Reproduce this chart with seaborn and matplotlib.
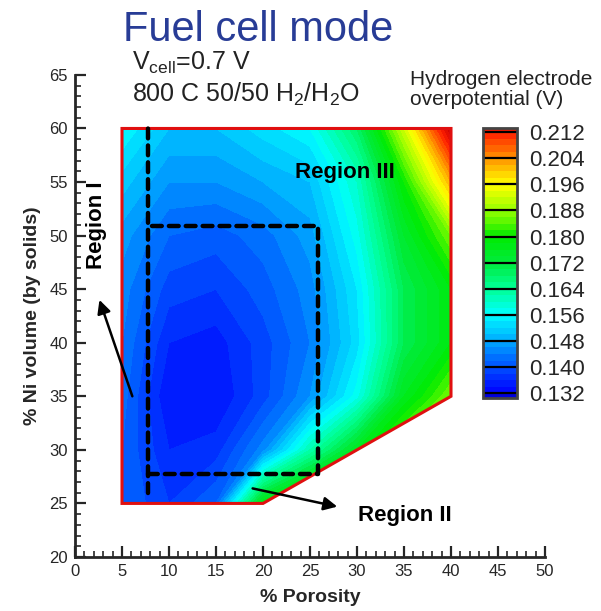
import matplotlib
matplotlib.use("Agg")
import matplotlib.pyplot as plt
import numpy as np
import seaborn as sns
from matplotlib.colors import LinearSegmentedColormap
from matplotlib.patches import Polygon
from matplotlib.ticker import MultipleLocator, FormatStrFormatter

sns.set_style("ticks")
plt.rcParams["font.family"] = ["Liberation Sans", "DejaVu Sans"]
plt.rcParams["mathtext.default"] = "regular"

# simulation grid
POROSITY = [5, 10, 15, 20, 25, 30, 35, 40]
NI_VOLUME = [25, 30, 35, 40, 45, 50, 55, 60]
# one row per Ni volume (bottom to top), one column per porosity
OVERPOTENTIAL = [
    [0.142, 0.138, 0.142, 0.178, 0.188, 0.196, 0.202, 0.208],
    [0.142, 0.136, 0.137, 0.145, 0.162, 0.176, 0.188, 0.196],
    [0.143, 0.134, 0.134, 0.139, 0.146, 0.157, 0.176, 0.186],
    [0.144, 0.136, 0.135, 0.139, 0.144, 0.153, 0.170, 0.178],
    [0.145, 0.139, 0.138, 0.141, 0.145, 0.154, 0.170, 0.178],
    [0.147, 0.142, 0.141, 0.143, 0.147, 0.157, 0.174, 0.186],
    [0.151, 0.146, 0.146, 0.148, 0.150, 0.160, 0.180, 0.202],
    [0.156, 0.150, 0.150, 0.153, 0.156, 0.168, 0.192, 0.218],
]
CBAR_TICKS = [0.132, 0.140, 0.148, 0.156, 0.164, 0.172, 0.180, 0.188, 0.196, 0.204, 0.212]

# outline of the explored design space
DOMAIN_X = [5, 5, 40, 40, 20]
DOMAIN_Y = [25, 60, 60, 35, 25]

# dashed guide lines
REGION1_X = [7.8, 7.8]
REGION1_Y = [26.0, 60.5]
BOX_X = [8.2, 25.8, 25.8, 7.8]
BOX_Y = [50.9, 50.9, 27.7, 27.7]

VMIN, VMAX = 0.130, 0.218
cmap_nodes = [
    (0.130, (0.00, 0.00, 0.78)),
    (0.132, (0.00, 0.00, 1.00)),
    (0.140, (0.00, 0.31, 1.00)),
    (0.148, (0.00, 0.67, 1.00)),
    (0.156, (0.00, 1.00, 1.00)),
    (0.164, (0.00, 1.00, 0.59)),
    (0.172, (0.00, 0.92, 0.24)),
    (0.180, (0.00, 0.92, 0.00)),
    (0.188, (0.59, 1.00, 0.00)),
    (0.196, (1.00, 1.00, 0.00)),
    (0.204, (1.00, 0.59, 0.00)),
    (0.212, (1.00, 0.12, 0.00)),
    (0.218, (0.80, 0.00, 0.00)),
]
cmap = LinearSegmentedColormap.from_list(
    "tecplot", [((v - VMIN) / (VMAX - VMIN), c) for v, c in cmap_nodes])

fig = plt.figure(figsize=(6.01, 6.11), dpi=100)
ax = fig.add_axes([0.1248, 0.0884, 0.782, 0.789])

X, Y = np.meshgrid(POROSITY, NI_VOLUME)
Z = np.array(OVERPOTENTIAL)
levels = np.linspace(VMIN, VMAX, 45)
cs = ax.contourf(X, Y, Z, levels=levels, cmap=cmap, vmin=VMIN, vmax=VMAX)

domain = Polygon(list(zip(DOMAIN_X, DOMAIN_Y)), closed=True, fill=False,
                 ec="#e01010", lw=2.2, zorder=3)
ax.add_patch(domain)
cs.set_clip_path(domain)

dash = dict(color="black", lw=3.2, dashes=(2.2, 1.6), dash_capstyle="round", zorder=4)
ax.plot(REGION1_X, REGION1_Y, **dash)
ax.plot(BOX_X, BOX_Y, **dash)

arrow = dict(arrowstyle="-|>", color="black", lw=1.8, mutation_scale=20, shrinkA=0, shrinkB=0)
ax.annotate("", xy=(2.6, 44.0), xytext=(6.1, 35.0), arrowprops=arrow, zorder=5)
ax.annotate("", xy=(27.9, 24.7), xytext=(18.9, 26.4), arrowprops=arrow, zorder=5)

bold = dict(fontsize=16, fontweight="bold", color="black")
ax.text(28.7, 55.4, "Region III", ha="center", va="baseline", **bold)
ax.text(35.1, 23.4, "Region II", ha="center", va="baseline", **bold)
ax.text(2.34, 51.0, "Region I", ha="center", va="center", rotation=90, **bold)

ax.set_xlim(0, 50)
ax.set_ylim(20, 65)
ax.xaxis.set_major_locator(MultipleLocator(5))
ax.xaxis.set_minor_locator(MultipleLocator(1))
ax.yaxis.set_major_locator(MultipleLocator(5))
ax.yaxis.set_minor_locator(MultipleLocator(1))
ax.tick_params(which="major", direction="in", length=8, width=1.6, labelsize=12, pad=5)
ax.tick_params(which="minor", direction="in", length=4, width=1.2)
sns.despine(ax=ax)
for side in ("left", "bottom"):
    ax.spines[side].set_linewidth(2)
ax.set_xlabel("% Porosity", fontsize=14, fontweight="bold", labelpad=7)
ax.set_ylabel("% Ni volume (by solids)", fontsize=14, fontweight="bold", labelpad=6)

cax = fig.add_axes([483 / 601, 1 - 398 / 611, 34 / 601, 270 / 611])
cbar = fig.colorbar(cs, cax=cax, ticks=CBAR_TICKS)
cax.set_ylim(0.1305, 0.2133)
for lv in CBAR_TICKS:
    cax.axhline(lv, color="black", lw=1.6)
cbar.outline.set_linewidth(2)
cbar.outline.set_edgecolor("#444444")
cax.yaxis.set_major_formatter(FormatStrFormatter("%.3f"))
cax.tick_params(length=0, labelsize=16, pad=9)
cax.minorticks_off()

fig.text(123 / 601, 1 - 41 / 611, "Fuel cell mode", fontsize=30, color="#283c96", va="baseline")
fig.text(132 / 601, 1 - 70 / 611, "V$_{cell}$=0.7 V", fontsize=18, color="#222222", va="baseline")
fig.text(132 / 601, 1 - 102 / 611, "800 C 50/50 H$_2$/H$_2$O", fontsize=18,
         color="#222222", va="baseline")
fig.text(410 / 601, 1 - 85 / 611, "Hydrogen electrode", fontsize=15, color="#222222", va="baseline")
fig.text(410 / 601, 1 - 105 / 611, "overpotential (V)", fontsize=15, color="#222222", va="baseline")

fig.savefig("out.png", dpi=100)
